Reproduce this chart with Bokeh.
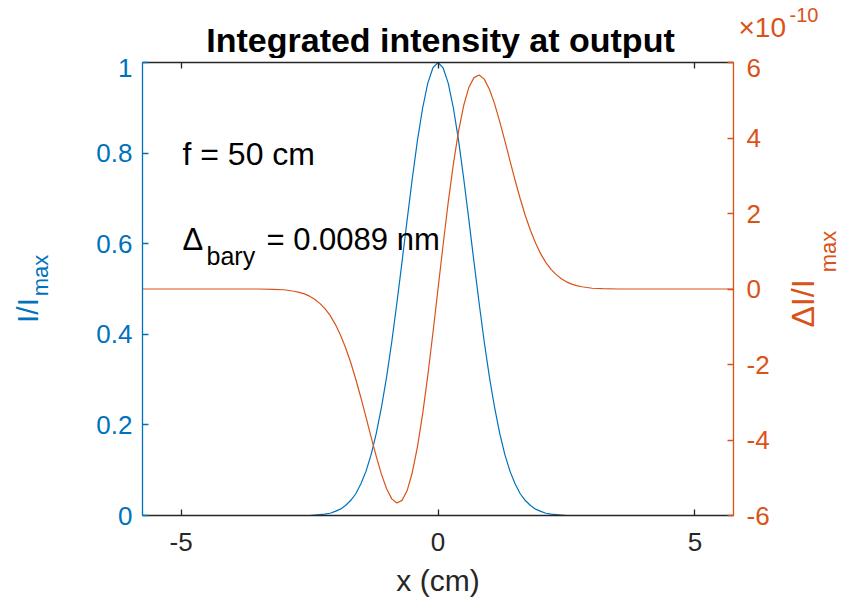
from math import pi
from bokeh.plotting import figure
from bokeh.models import Range1d, LinearAxis, FixedTicker, Label
from bokeh.layouts import column, row
from bokeh.embed import file_html
from bokeh.resources import INLINE

# ---- data ----
x_cm = [-5.75, -4.5, -3.5, -3.2,
        -3.0, -2.9, -2.8, -2.7, -2.6, -2.5, -2.4, -2.3, -2.2, -2.1,
        -2.0, -1.9, -1.8, -1.7, -1.6, -1.5, -1.4, -1.3, -1.2, -1.1,
        -1.0, -0.9, -0.8, -0.7, -0.6, -0.5, -0.4, -0.3, -0.2, -0.1,
        0.0,
        0.1, 0.2, 0.3, 0.4, 0.5, 0.6, 0.7, 0.8, 0.9, 1.0,
        1.1, 1.2, 1.3, 1.4, 1.5, 1.6, 1.7, 1.8, 1.9, 2.0,
        2.1, 2.2, 2.3, 2.4, 2.5, 2.6, 2.7, 2.8, 2.9, 3.0,
        3.2, 3.5, 4.5, 5.75]

intensity = [0.0, 0.0, 0.0, 0.0,
             0.0, 0.0, 0.0, 0.0, 0.0, 0.0, 0.001, 0.002, 0.003, 0.005,
             0.009, 0.014, 0.022, 0.033, 0.048, 0.070, 0.098, 0.135, 0.182, 0.239,
             0.306, 0.383, 0.469, 0.560, 0.653, 0.744, 0.828, 0.899, 0.954, 0.988,
             1.000,
             0.988, 0.954, 0.899, 0.828, 0.744, 0.653, 0.560, 0.469, 0.383, 0.306,
             0.239, 0.182, 0.135, 0.098, 0.070, 0.048, 0.033, 0.022, 0.014, 0.009,
             0.005, 0.003, 0.002, 0.001, 0.0, 0.0, 0.0, 0.0, 0.0, 0.0,
             0.0, 0.0, 0.0, 0.0]

# Delta I / I_max, in units of 1e-10
delta_e10 = [0.0, 0.0, 0.0, -0.01,
             -0.02, -0.04, -0.06, -0.09, -0.13, -0.19, -0.27, -0.38, -0.52, -0.70,
             -0.93, -1.21, -1.55, -1.94, -2.39, -2.88, -3.40, -3.93, -4.44, -4.91,
             -5.29, -5.56, -5.67, -5.60, -5.34, -4.86, -4.18, -3.32, -2.31, -1.18,
             0.0,
             1.18, 2.31, 3.32, 4.18, 4.86, 5.34, 5.60, 5.67, 5.56, 5.29,
             4.91, 4.44, 3.93, 3.40, 2.88, 2.39, 1.94, 1.55, 1.21, 0.93,
             0.70, 0.52, 0.38, 0.27, 0.19, 0.13, 0.09, 0.06, 0.04, 0.02,
             0.01, 0.0, 0.0, 0.0]

x_ticks = [-5, 0, 5]
x_tick_labels = ["-5", "0", "5"]
left_ticks = [0, 0.2, 0.4, 0.6, 0.8, 1]
left_tick_labels = ["0", "0.2", "0.4", "0.6", "0.8", "1"]
right_ticks = [-6, -4, -2, 0, 2, 4, 6]
right_tick_labels = ["-6", "-4", "-2", "0", "2", "4", "6"]

title_text = "Integrated intensity at output"
xlabel_text = "x (cm)"

# ---- style / layout ----
BLUE = "#0072BD"
ORANGE = "#D95319"
DARK = "#262626"
FONT = "Liberation Sans"
TICK_FS = "26px"
BASE_SHIFT = 0.3          # empirical baseline correction (fraction of font size)

WIN_W, WIN_H = 846, 611
X0, X1 = -5.75, 5.75
L, R, T, B = 142, 733, 62, 515        # frame edges in window pixels
TOP_H = 58                            # strip above the plot (title, multiplier)
LEFT_W = 60                           # strip left of the plot (y label)
RIGHT_X = 780                         # strip right of the plot (right y label)

MAIN_W = RIGHT_X - LEFT_W
MAIN_H = WIN_H - TOP_H
BORDER_TOP = T - TOP_H
BORDER_BOTTOM = WIN_H - B

p = figure(width=MAIN_W, height=MAIN_H, x_range=Range1d(X0, X1), y_range=Range1d(0, 1),
           output_backend="svg", toolbar_location=None,
           min_border_left=L - LEFT_W, min_border_right=RIGHT_X - R,
           min_border_top=BORDER_TOP, min_border_bottom=BORDER_BOTTOM)
p.outline_line_color = None
p.xgrid.visible = False
p.ygrid.visible = False
p.background_fill_color = "white"
p.border_fill_color = "white"
p.extra_y_ranges = {"d": Range1d(-6, 6)}


def style_axis(ax, color, label=True):
    ax.axis_line_color = color
    ax.axis_line_width = 1.3
    ax.major_tick_line_color = color
    ax.major_tick_line_width = 1.3
    ax.major_tick_in = 6
    ax.major_tick_out = 0
    ax.minor_tick_line_color = None
    ax.major_label_text_color = color
    ax.major_label_text_font = FONT
    ax.major_label_text_font_size = TICK_FS if label else "0px"


xa = p.xaxis[0]
xa.ticker = FixedTicker(ticks=x_ticks)
xa.major_label_overrides = {t: s for t, s in zip(x_ticks, x_tick_labels)}
style_axis(xa, DARK)
xa.major_label_standoff = 17
xa.axis_label = xlabel_text
xa.axis_label_text_font = FONT
xa.axis_label_text_font_size = "30px"
xa.axis_label_text_font_style = "normal"
xa.axis_label_text_color = DARK
xa.axis_label_standoff = 10

ya = p.yaxis[0]
ya.ticker = FixedTicker(ticks=left_ticks)
ya.major_label_overrides = {t: s for t, s in zip(left_ticks, left_tick_labels)}
style_axis(ya, BLUE)
ya.major_label_standoff = 10

top = LinearAxis(ticker=FixedTicker(ticks=x_ticks))
style_axis(top, DARK, label=False)
top.major_label_standoff = 0
p.add_layout(top, "above")

ra = LinearAxis(y_range_name="d", ticker=FixedTicker(ticks=right_ticks))
ra.major_label_overrides = {t: s for t, s in zip(right_ticks, right_tick_labels)}
style_axis(ra, ORANGE)
ra.major_label_standoff = 13
p.add_layout(ra, "right")

p.line(x_cm, intensity, line_color=BLUE, line_width=1.2)
p.line(x_cm, delta_e10, line_color=ORANGE, line_width=1.2, y_range_name="d")


def make_label(text, x, y, size, color, align, baseline, style, angle, units):
    return Label(x=x, y=y, x_units=units, y_units=units, text=text, text_font=FONT,
                 text_font_size=f"{size}px", text_color=color, text_align=align,
                 text_baseline=baseline, text_font_style=style, angle=angle)


def in_frame(text, px, py, size, color="black"):
    # baseline at window pixel (px, py); screen units relative to frame bottom-left
    y = B - (py - BASE_SHIFT * size)
    p.add_layout(make_label(text, px - L, y, size, color, "left", "alphabetic",
                            "normal", 0.0, "screen"))


def strip(x_off, w, y_top, y_bottom, height, border_top, border_bottom):
    # a bare figure whose frame covers window rows y_top..y_bottom and whose
    # data coordinates are window pixels (y measured upward from the window bottom)
    f = figure(width=w, height=height,
               x_range=Range1d(x_off, x_off + w),
               y_range=Range1d(WIN_H - y_bottom, WIN_H - y_top),
               output_backend="svg", toolbar_location=None,
               x_axis_location=None, y_axis_location=None,
               min_border_left=0, min_border_right=0,
               min_border_top=border_top, min_border_bottom=border_bottom)
    f.outline_line_color = None
    f.grid.visible = False
    f.background_fill_color = "white"
    f.border_fill_color = "white"
    return f


def put_base(f, text, px, py, size, color="black", align="left", style="normal"):
    # horizontal text with its baseline at window pixel py
    f.add_layout(make_label(text, px, WIN_H - (py - BASE_SHIFT * size), size, color,
                            align, "alphabetic", style, 0.0, "data"))


def put_vcenter(f, text, cx, cy, size, color):
    # vertical (bottom-to-top) text centred on window pixel (cx, cy)
    f.add_layout(make_label(text, cx, WIN_H - cy, size, color, "center", "middle",
                            "normal", pi / 2, "data"))


# top strip: title and exponent of the right axis
top_fig = strip(0, WIN_W, 0, TOP_H, TOP_H, 0, 0)
put_base(top_fig, title_text, 440, 50, 34, align="center", style="bold")
put_base(top_fig, "\u00d710", 738, 35, 28, color=ORANGE)
put_base(top_fig, "-10", 789, 20, 20, color=ORANGE)

# left strip: I/I_max (frame aligned with the axes frame)
left_fig = strip(0, LEFT_W, T, B, MAIN_H, BORDER_TOP, BORDER_BOTTOM)
put_vcenter(left_fig, "I/I", 27, 310, 30, BLUE)
put_vcenter(left_fig, "max", 40, 275, 22, BLUE)

# right strip: Delta I/I_max
right_fig = strip(RIGHT_X, WIN_W - RIGHT_X, T, B, MAIN_H, BORDER_TOP, BORDER_BOTTOM)
put_vcenter(right_fig, "\u0394I/I", 802, 303, 32, ORANGE)
put_vcenter(right_fig, "max", 828, 251, 22, ORANGE)

# annotations inside the axes
in_frame("f = 50 cm", 182, 163, 32)
in_frame("\u0394", 182, 248, 31)
in_frame("bary", 206, 263, 25)
in_frame("= 0.0089 nm", 266, 248, 31)

layout = column(top_fig, row(left_fig, p, right_fig, spacing=0), spacing=0)

open("out.html", "w").write(file_html(layout, INLINE))
